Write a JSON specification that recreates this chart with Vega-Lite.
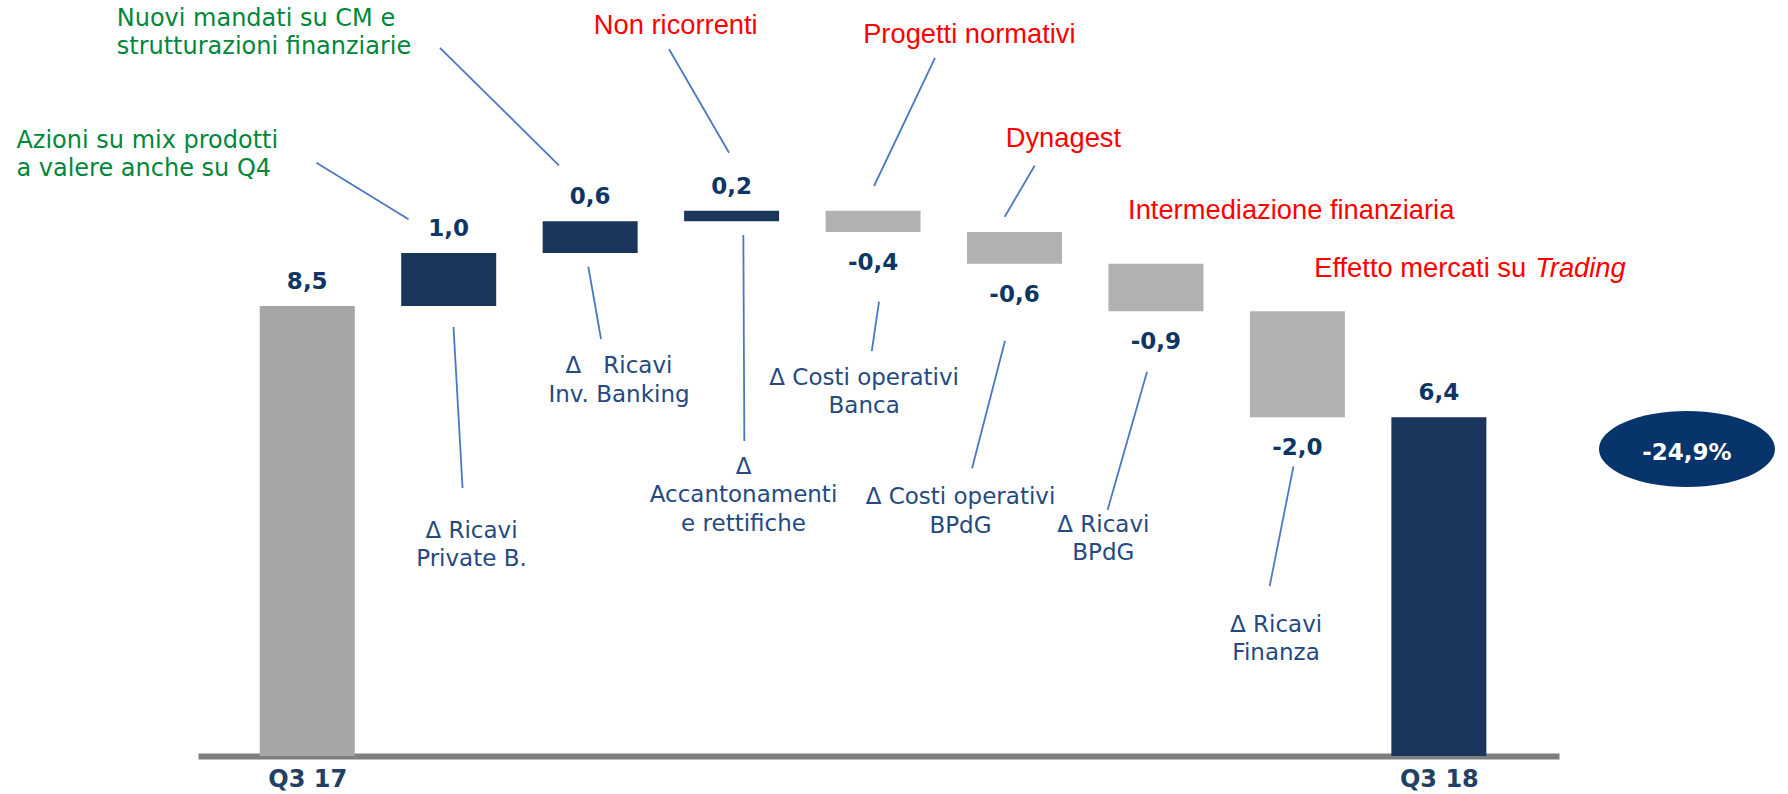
{
  "$schema": "https://vega.github.io/schema/vega-lite/v6.json",
  "width": 1361,
  "height": 756,
  "autosize": {"type": "none"},
  "padding": {"left": 198, "right": 229, "top": 0, "bottom": 38},
  "background": "white",
  "config": {
    "view": {"stroke": null},
    "locale": {"number": {"decimal": ",", "thousands": ".", "grouping": [3], "currency": ["€", ""], "minus": "-"}},
    "axisX": {
      "title": null, "grid": false, "ticks": false, "tickSize": 0,
      "domainColor": "#7f7f7f", "domainWidth": 6,
      "labelFont": "DejaVu Sans", "labelFontSize": 24, "labelFontWeight": "bold",
      "labelColor": "#223f66", "labelBaseline": "alphabetic", "labelPadding": 30,
      "labelFlush": false, "labelOverlap": false, "zindex": 1
    }
  },
  "datasets": {
    "voci": [
      {"voce": "Q3 17", "pos": 1, "inizio": 0, "fine": 8.5, "delta": 8.5, "tipo": "iniziale"},
      {"voce": "Ricavi Private B.", "pos": 2, "inizio": 8.5, "fine": 9.5, "delta": 1.0, "tipo": "aumento"},
      {"voce": "Ricavi Inv. Banking", "pos": 3, "inizio": 9.5, "fine": 10.1, "delta": 0.6, "tipo": "aumento"},
      {"voce": "Accantonamenti e rettifiche", "pos": 4, "inizio": 10.1, "fine": 10.3, "delta": 0.2, "tipo": "aumento"},
      {"voce": "Costi operativi Banca", "pos": 5, "inizio": 10.3, "fine": 9.9, "delta": -0.4, "tipo": "calo"},
      {"voce": "Costi operativi BPdG", "pos": 6, "inizio": 9.9, "fine": 9.3, "delta": -0.6, "tipo": "calo"},
      {"voce": "Ricavi BPdG", "pos": 7, "inizio": 9.3, "fine": 8.4, "delta": -0.9, "tipo": "calo"},
      {"voce": "Ricavi Finanza", "pos": 8, "inizio": 8.4, "fine": 6.4, "delta": -2.0, "tipo": "calo"},
      {"voce": "Q3 18", "pos": 9, "inizio": 0, "fine": 6.4, "delta": 6.4, "tipo": "finale"}
    ],
    "linee": [
      {"x": 1.065, "y": 11.207, "x2": 1.716, "y2": 10.138},
      {"x": 1.938, "y": 13.376, "x2": 2.779, "y2": 11.158},
      {"x": 3.558, "y": 13.349, "x2": 3.982, "y2": 11.396},
      {"x": 5.438, "y": 13.187, "x2": 5.007, "y2": 10.767},
      {"x": 6.142, "y": 11.150, "x2": 5.931, "y2": 10.187},
      {"x": 2.034, "y": 8.104, "x2": 2.098, "y2": 5.062},
      {"x": 2.987, "y": 9.241, "x2": 3.077, "y2": 7.877},
      {"x": 4.083, "y": 9.841, "x2": 4.090, "y2": 5.950},
      {"x": 5.042, "y": 8.582, "x2": 4.991, "y2": 7.650},
      {"x": 5.933, "y": 7.845, "x2": 5.700, "y2": 5.434},
      {"x": 6.937, "y": 7.259, "x2": 6.658, "y2": 4.647},
      {"x": 7.972, "y": 5.470, "x2": 7.804, "y2": 3.209}
    ],
    "descrizioni": [
      {"x": 2.161, "y": 4.118, "testo": "Δ Ricavi\nPrivate B."},
      {"x": 3.204, "y": 7.229, "testo": "Δ\u00a0\u00a0 Ricavi\nInv. Banking"},
      {"x": 4.084, "y": 5.327, "testo": "Δ\nAccantonamenti\ne rettifiche"},
      {"x": 4.937, "y": 7.008, "testo": "Δ Costi operativi\nBanca"},
      {"x": 5.618, "y": 4.760, "testo": "Δ Costi operativi\nBPdG"},
      {"x": 6.628, "y": 4.237, "testo": "Δ Ricavi\nBPdG"},
      {"x": 7.849, "y": 2.348, "testo": "Δ Ricavi\nFinanza"}
    ],
    "note": [
      {"x": -0.347, "y": 13.789, "testo": "Nuovi mandati su CM e\nstrutturazioni finanziarie", "tono": "positivo", "stile": "normale"},
      {"x": -1.056, "y": 11.490, "testo": "Azioni su mix prodotti\na valere anche su Q4", "tono": "positivo", "stile": "normale"},
      {"x": 3.026, "y": 13.631, "testo": "Non ricorrenti", "tono": "negativo", "stile": "normale"},
      {"x": 4.930, "y": 13.468, "testo": "Progetti normativi", "tono": "negativo", "stile": "normale"},
      {"x": 5.938, "y": 11.498, "testo": "Dynagest", "tono": "negativo", "stile": "normale"},
      {"x": 6.803, "y": 10.144, "testo": "Intermediazione finanziaria", "tono": "negativo", "stile": "normale"},
      {"x": 8.119, "y": 9.048, "testo": "Effetto mercati su", "tono": "negativo", "stile": "normale"},
      {"x": 9.681, "y": 9.048, "testo": "Trading", "tono": "negativo", "stile": "corsivo"}
    ],
    "variazione": [
      {"x": 10.754, "y": 5.799, "testo": "-24,9%"}
    ]
  },
  "layer": [
    {
      "data": {"name": "voci"},
      "mark": {"type": "bar", "width": 95},
      "encoding": {
        "x": {"field": "pos", "type": "quantitative", "scale": {"domain": [0.263, 9.814], "nice": false, "zero": false},
              "axis": {"values": [1, 9], "labelExpr": "datum.value == 1 ? 'Q3 17' : 'Q3 18'"}},
        "y": {"field": "inizio", "type": "quantitative", "scale": {"domain": [0, 14.2803], "nice": false, "zero": false}, "axis": null},
        "y2": {"field": "fine"},
        "color": {
          "field": "tipo", "type": "nominal",
          "scale": {"domain": ["iniziale", "aumento", "calo", "finale"], "range": ["#a6a6a6", "#1b365d", "#b1b1b1", "#1b365d"]},
          "legend": null
        }
      }
    },
    {
      "data": {"name": "voci"},
      "transform": [{"filter": "datum.tipo != 'calo'"}],
      "mark": {"type": "text", "align": "center", "baseline": "alphabetic", "dy": -17, "font": "DejaVu Sans", "fontWeight": "bold", "fontSize": 23, "color": "#0f3564"},
      "encoding": {
        "x": {"field": "pos", "type": "quantitative", "scale": {"domain": [0.263, 9.814], "nice": false, "zero": false},
              "axis": {"values": [1, 9], "labelExpr": "datum.value == 1 ? 'Q3 17' : 'Q3 18'"}},
        "y": {"field": "fine", "type": "quantitative", "scale": {"domain": [0, 14.2803], "nice": false, "zero": false}, "axis": null},
        "text": {"field": "delta", "type": "quantitative", "format": ".1f"}
      }
    },
    {
      "data": {"name": "voci"},
      "transform": [{"filter": "datum.tipo == 'calo'"}],
      "mark": {"type": "text", "align": "center", "baseline": "top", "dy": 20, "font": "DejaVu Sans", "fontWeight": "bold", "fontSize": 23, "color": "#0f3564"},
      "encoding": {
        "x": {"field": "pos", "type": "quantitative", "scale": {"domain": [0.263, 9.814], "nice": false, "zero": false},
              "axis": {"values": [1, 9], "labelExpr": "datum.value == 1 ? 'Q3 17' : 'Q3 18'"}},
        "y": {"field": "fine", "type": "quantitative", "scale": {"domain": [0, 14.2803], "nice": false, "zero": false}, "axis": null},
        "text": {"field": "delta", "type": "quantitative", "format": ".1f"}
      }
    },
    {
      "data": {"name": "linee"},
      "mark": {"type": "rule", "color": "#4a78c2", "strokeWidth": 1.8},
      "encoding": {
        "x": {"field": "x", "type": "quantitative", "scale": {"domain": [0.263, 9.814], "nice": false, "zero": false},
              "axis": {"values": [1, 9], "labelExpr": "datum.value == 1 ? 'Q3 17' : 'Q3 18'"}},
        "y": {"field": "y", "type": "quantitative", "scale": {"domain": [0, 14.2803], "nice": false, "zero": false}, "axis": null},
        "x2": {"field": "x2"},
        "y2": {"field": "y2"}
      }
    },
    {
      "data": {"name": "descrizioni"},
      "mark": {"type": "text", "align": "center", "baseline": "alphabetic", "lineBreak": "\n", "lineHeight": 28.5, "font": "DejaVu Sans", "fontSize": 23, "color": "#254a7f"},
      "encoding": {
        "x": {"field": "x", "type": "quantitative", "scale": {"domain": [0.263, 9.814], "nice": false, "zero": false},
              "axis": {"values": [1, 9], "labelExpr": "datum.value == 1 ? 'Q3 17' : 'Q3 18'"}},
        "y": {"field": "y", "type": "quantitative", "scale": {"domain": [0, 14.2803], "nice": false, "zero": false}, "axis": null},
        "text": {"field": "testo"}
      }
    },
    {
      "data": {"name": "note"},
      "transform": [{"filter": "datum.tono == 'positivo'"}],
      "mark": {"type": "text", "align": "left", "baseline": "alphabetic", "lineBreak": "\n", "lineHeight": 28.3, "font": "DejaVu Sans", "fontSize": 24, "color": "#00873c"},
      "encoding": {
        "x": {"field": "x", "type": "quantitative", "scale": {"domain": [0.263, 9.814], "nice": false, "zero": false},
              "axis": {"values": [1, 9], "labelExpr": "datum.value == 1 ? 'Q3 17' : 'Q3 18'"}},
        "y": {"field": "y", "type": "quantitative", "scale": {"domain": [0, 14.2803], "nice": false, "zero": false}, "axis": null},
        "text": {"field": "testo"}
      }
    },
    {
      "data": {"name": "note"},
      "transform": [{"filter": "datum.tono == 'negativo' && datum.stile == 'normale'"}],
      "mark": {"type": "text", "align": "left", "baseline": "alphabetic", "font": "Liberation Sans", "fontSize": 27.3, "color": "#ff0000"},
      "encoding": {
        "x": {"field": "x", "type": "quantitative", "scale": {"domain": [0.263, 9.814], "nice": false, "zero": false},
              "axis": {"values": [1, 9], "labelExpr": "datum.value == 1 ? 'Q3 17' : 'Q3 18'"}},
        "y": {"field": "y", "type": "quantitative", "scale": {"domain": [0, 14.2803], "nice": false, "zero": false}, "axis": null},
        "text": {"field": "testo"}
      }
    },
    {
      "data": {"name": "note"},
      "transform": [{"filter": "datum.stile == 'corsivo'"}],
      "mark": {"type": "text", "align": "left", "baseline": "alphabetic", "font": "Liberation Sans", "fontSize": 27.3, "fontStyle": "italic", "color": "#ff0000"},
      "encoding": {
        "x": {"field": "x", "type": "quantitative", "scale": {"domain": [0.263, 9.814], "nice": false, "zero": false},
              "axis": {"values": [1, 9], "labelExpr": "datum.value == 1 ? 'Q3 17' : 'Q3 18'"}},
        "y": {"field": "y", "type": "quantitative", "scale": {"domain": [0, 14.2803], "nice": false, "zero": false}, "axis": null},
        "text": {"field": "testo"}
      }
    },
    {
      "data": {"name": "variazione"},
      "mark": {
        "type": "point", "filled": true, "opacity": 1, "strokeWidth": 0, "color": "#06346b", "size": 30976,
        "shape": "M -1 0 C -1 -0.2386 -0.5523 -0.432 0 -0.432 C 0.5523 -0.432 1 -0.2386 1 0 C 1 0.2386 0.5523 0.432 0 0.432 C -0.5523 0.432 -1 0.2386 -1 0 Z"
      },
      "encoding": {
        "x": {"field": "x", "type": "quantitative", "scale": {"domain": [0.263, 9.814], "nice": false, "zero": false},
              "axis": {"values": [1, 9], "labelExpr": "datum.value == 1 ? 'Q3 17' : 'Q3 18'"}},
        "y": {"field": "y", "type": "quantitative", "scale": {"domain": [0, 14.2803], "nice": false, "zero": false}, "axis": null}
      }
    },
    {
      "data": {"name": "variazione"},
      "mark": {"type": "text", "align": "center", "baseline": "middle", "dy": 4, "font": "DejaVu Sans", "fontWeight": "bold", "fontSize": 23, "color": "white"},
      "encoding": {
        "x": {"field": "x", "type": "quantitative", "scale": {"domain": [0.263, 9.814], "nice": false, "zero": false},
              "axis": {"values": [1, 9], "labelExpr": "datum.value == 1 ? 'Q3 17' : 'Q3 18'"}},
        "y": {"field": "y", "type": "quantitative", "scale": {"domain": [0, 14.2803], "nice": false, "zero": false}, "axis": null},
        "text": {"field": "testo"}
      }
    }
  ]
}
